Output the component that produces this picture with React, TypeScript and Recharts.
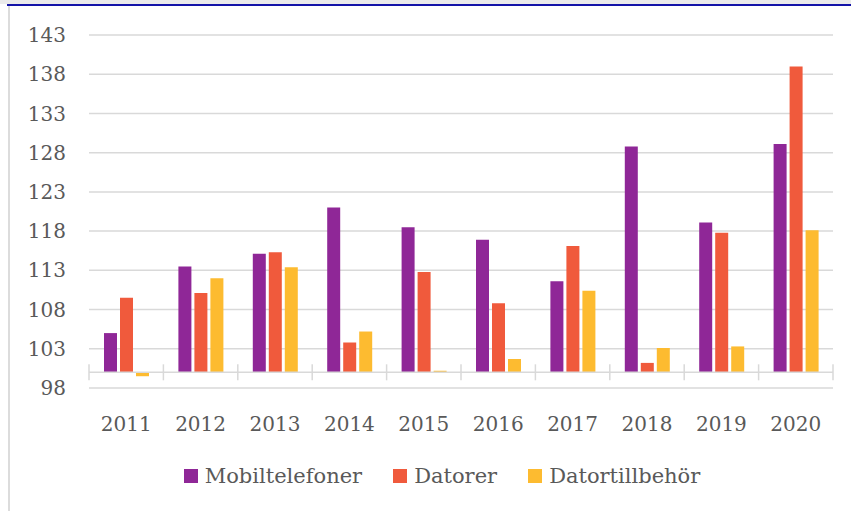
import React from 'react';
import { BarChart, Bar, XAxis, YAxis, CartesianGrid, Legend, ReferenceLine } from 'recharts';

const years = ['2011', '2012', '2013', '2014', '2015', '2016', '2017', '2018', '2019', '2020'];
const mobiltelefoner = [105.0, 113.5, 115.1, 121.0, 118.5, 116.9, 111.6, 128.8, 119.1, 129.1];
const datorer = [109.5, 110.1, 115.3, 103.8, 112.8, 108.8, 116.1, 101.2, 117.8, 139.0];
const datortillbehor = [99.5, 112.0, 113.4, 105.2, 100.2, 101.7, 110.4, 103.1, 103.3, 118.1];
const seriesNames = ['Mobiltelefoner', 'Datorer', 'Datortillbehör'];
const yTicks = [98, 103, 108, 113, 118, 123, 128, 133, 138, 143];
const base = 100;

const data = years.map((year, i) => ({
  year,
  mob: mobiltelefoner[i],
  dat: datorer[i],
  tillb: datortillbehor[i],
}));

const font = "'DejaVu Serif', serif";
const textColor = '#595959';
const gridColor = '#d9d9d9';

// axis line at 100 with Excel-style cross tick marks between categories
const AxisAt100 = (props: any) => {
  const { x1, x2, y1 } = props;
  const step = (x2 - x1) / years.length;
  return (
    <g>
      <line x1={x1} x2={x2} y1={y1} y2={y1} stroke={gridColor} strokeWidth={1.5} />
      {Array.from({ length: years.length + 1 }, (_, i) => (
        <line key={i} x1={x1 + i * step} x2={x1 + i * step} y1={y1 - 8} y2={y1 + 8} stroke={gridColor} strokeWidth={1.5} />
      ))}
    </g>
  );
};

const LegendContent = (props: any) => {
  const payload = [...(props.payload || [])].sort(
    (a: any, b: any) => seriesNames.indexOf(a.value) - seriesNames.indexOf(b.value)
  );
  return (
    <div style={{ display: 'flex', justifyContent: 'center', fontFamily: font, fontSize: 21, color: textColor }}>
      {payload.map((p: any, i: number) => (
        <div key={i} style={{ display: 'flex', alignItems: 'center', marginRight: i < payload.length - 1 ? 31 : 0 }}>
          <span style={{ display: 'inline-block', width: 14, height: 14, background: p.color, marginRight: 7 }} />
          <span>{p.value}</span>
        </div>
      ))}
    </div>
  );
};

export default function App() {
  return (
    <div style={{ position: 'absolute', left: 0, top: 0, width: 851, height: 511, background: '#fff', overflow: 'hidden' }}>
      <div style={{ position: 'absolute', left: 0, top: 0, width: 851, height: 4, background: '#ebebeb' }} />
      <div style={{ position: 'absolute', left: 7, top: 4, width: 844, height: 2, background: '#1414a8' }} />
      <div style={{ position: 'absolute', left: 8, top: 6, width: 2, height: 505, background: '#dcdcdc' }} />
      <div style={{ position: 'absolute', left: 0, top: 0 }}>
        <BarChart
          width={851}
          height={511}
          data={data}
          margin={{ top: 35, right: 18, bottom: 63, left: 0 }}
          barSize={13}
          barGap={3}
        >
          <CartesianGrid vertical={false} stroke={gridColor} strokeWidth={1.5} />
          <XAxis
            dataKey="year"
            axisLine={false}
            tickLine={false}
            height={60}
            tickMargin={23}
            tick={{ fill: textColor, fontFamily: font, fontSize: 20 }}
          />
          <YAxis
            domain={[98, 143]}
            ticks={yTicks}
            width={89}
            axisLine={false}
            tickLine={false}
            tickMargin={17}
            tick={{ fill: textColor, fontFamily: font, fontSize: 20 }}
          />
          <Bar name={seriesNames[0]} dataKey={(d: any) => [base, d.mob]} fill="#8f2797" isAnimationActive={false} />
          <Bar name={seriesNames[1]} dataKey={(d: any) => [base, d.dat]} fill="#f05a3c" isAnimationActive={false} />
          <Bar name={seriesNames[2]} dataKey={(d: any) => [base, d.tillb]} fill="#fdbb30" isAnimationActive={false} />
          <ReferenceLine y={base} shape={AxisAt100} />
          <Legend
            verticalAlign="middle"
            align="center"
            content={LegendContent}
            wrapperStyle={{ top: 464, left: 0, width: 884 }}
          />
        </BarChart>
      </div>
    </div>
  );
}
